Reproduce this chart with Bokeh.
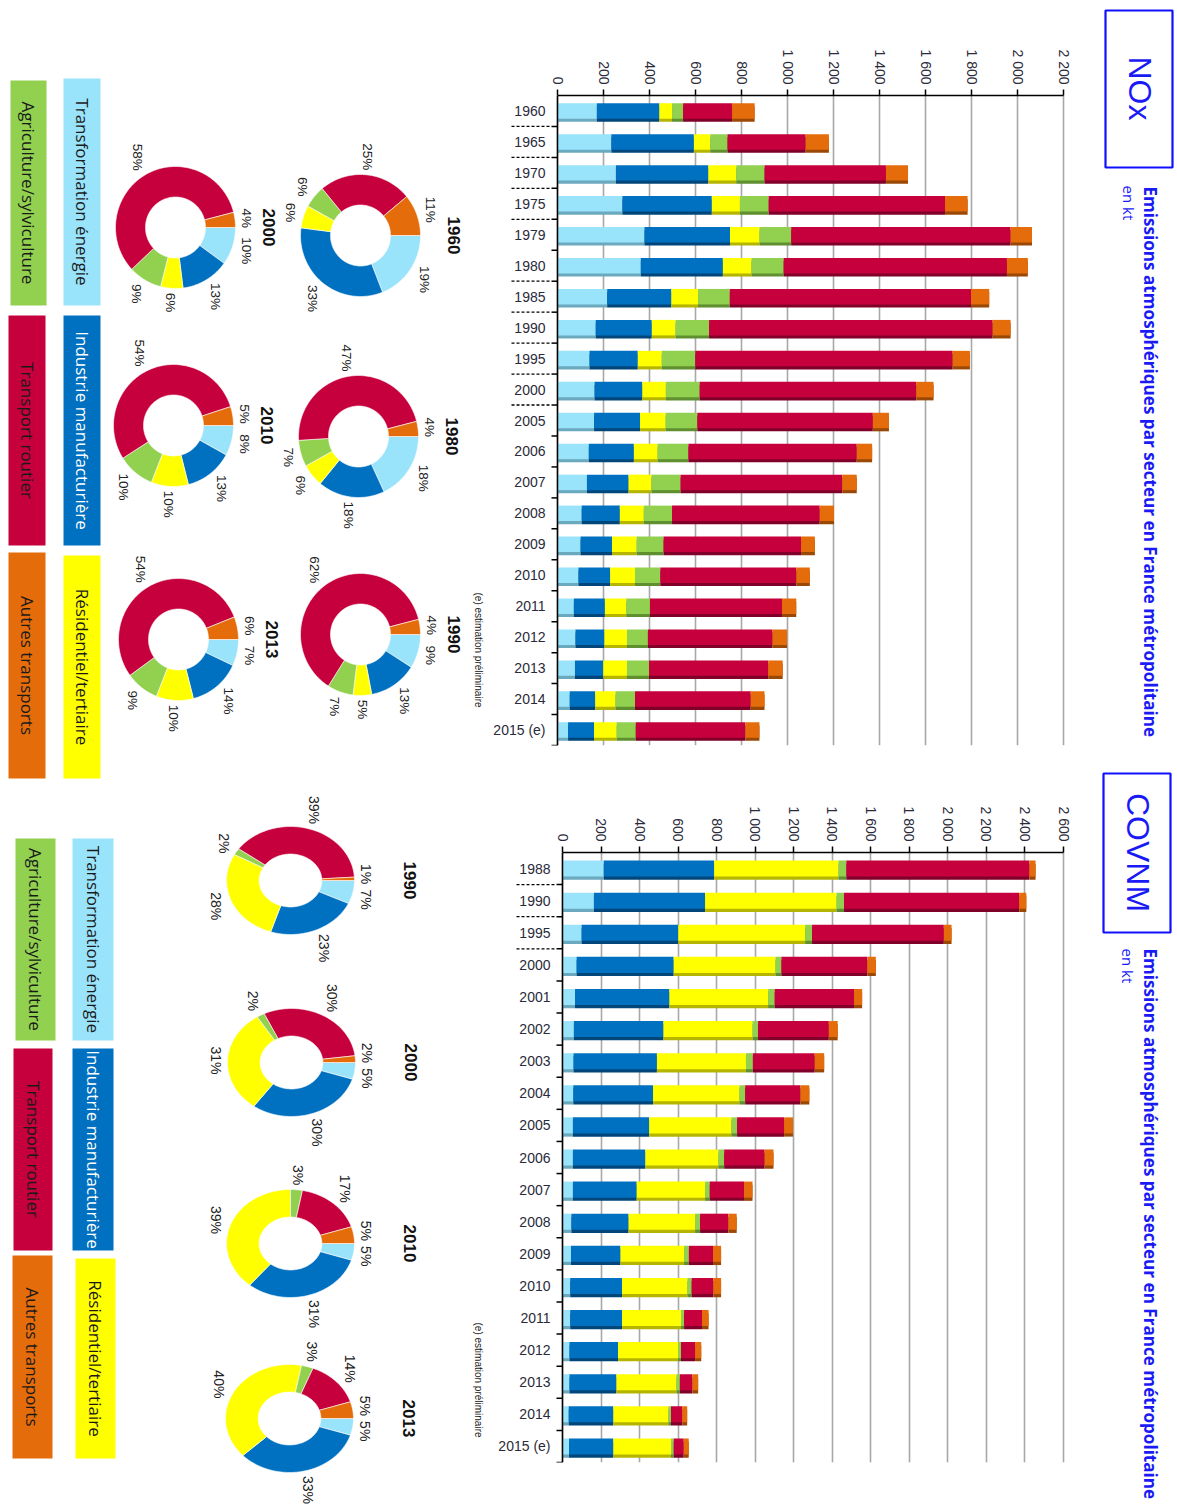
import math
from bokeh.plotting import figure
from bokeh.models import ColumnDataSource, FactorRange, Range1d, FixedTicker, Span
from bokeh.transform import dodge
from bokeh.layouts import row, column
from bokeh.core.properties import value
from bokeh.embed import file_html
from bokeh.resources import INLINE

# ---------------------------------------------------------------- data (kt)
sectors = ["Transformation énergie", "Industrie manufacturière", "Résidentiel/tertiaire",
           "Agriculture/sylviculture", "Transport routier", "Autres transports"]
stack_keys = ["energie", "industrie", "residentiel", "agriculture", "routier", "autres"]

nox_years = ["1960", "1965", "1970", "1975", "1979", "1980", "1985", "1990", "1995", "2000",
             "2005", "2006", "2007", "2008", "2009", "2010", "2011", "2012", "2013", "2014", "2015 (e)"]
nox_energie = [171, 234, 254, 282, 378, 362, 216, 166, 139, 161, 159, 136, 128, 105, 100, 91, 71, 78, 76, 53, 46]
nox_industrie = [272, 359, 402, 389, 372, 357, 279, 244, 210, 208, 200, 196, 181, 166, 137, 138, 135, 126, 123, 111, 113]
nox_residentiel = [55, 71, 121, 122, 128, 124, 116, 103, 104, 102, 111, 103, 99, 104, 107, 108, 93, 98, 103, 88, 98]
nox_agriculture = [48, 75, 123, 125, 138, 140, 138, 146, 146, 147, 138, 134, 127, 123, 117, 110, 103, 91, 96, 85, 83]
nox_routier = [213, 340, 528, 767, 954, 971, 1049, 1233, 1119, 942, 763, 732, 703, 642, 598, 592, 574, 542, 518, 503, 477]
nox_autres = [98, 101, 96, 98, 93, 91, 79, 78, 75, 75, 70, 67, 63, 62, 60, 58, 62, 63, 63, 60, 61]
nox_dashed_below = ["1960", "1965", "1970", "1975", "1980", "1985", "1990", "1995", "2000"]

covnm_years = ["1988", "1990", "1995", "2000", "2001", "2002", "2003", "2004", "2005", "2006",
               "2007", "2008", "2009", "2010", "2011", "2012", "2013", "2014", "2015 (e)"]
covnm_energie = [214, 163, 99, 73, 65, 59, 57, 56, 54, 54, 54, 46, 44, 40, 40, 36, 36, 32, 34]
covnm_industrie = [573, 577, 502, 504, 490, 465, 433, 414, 396, 376, 331, 297, 257, 269, 269, 252, 244, 232, 230]
covnm_residentiel = [645, 682, 658, 528, 512, 462, 462, 448, 426, 379, 355, 345, 330, 339, 306, 312, 311, 285, 299]
covnm_agriculture = [41, 39, 36, 31, 34, 29, 36, 30, 30, 30, 24, 26, 25, 22, 16, 15, 18, 14, 14]
covnm_routier = [950, 909, 684, 446, 412, 367, 321, 287, 244, 210, 178, 147, 125, 113, 93, 73, 65, 58, 52]
covnm_autres = [32, 37, 40, 44, 42, 46, 49, 46, 46, 46, 44, 43, 42, 40, 34, 32, 30, 26, 26]
covnm_dashed_below = ["1988", "1990", "1995"]

# sector shares (%) of the ring charts
nox_pie_years = ["1960", "1980", "1990", "2000", "2010", "2013"]
nox_pie_1960 = [19, 33, 6, 6, 25, 11]
nox_pie_1980 = [18, 18, 6, 7, 47, 4]
nox_pie_1990 = [9, 13, 5, 7, 62, 4]
nox_pie_2000 = [10, 13, 6, 9, 58, 4]
nox_pie_2010 = [8, 13, 10, 10, 54, 5]
nox_pie_2013 = [7, 14, 10, 9, 54, 6]

covnm_pie_years = ["1990", "2000", "2010", "2013"]
covnm_pie_1990 = [7, 23, 28, 2, 39, 1]
covnm_pie_2000 = [5, 30, 31, 2, 30, 2]
covnm_pie_2010 = [5, 31, 39, 3, 17, 5]
covnm_pie_2013 = [5, 33, 40, 3, 14, 5]

title_text = "Emissions atmosphériques par secteur en France métropolitaine"
unit_text = "en kt"
note_text = "(e) estimation préliminaire"

# ---------------------------------------------------------------- style
colors = ["#99E3FB", "#0070C0", "#FFFF00", "#92D050", "#C6003C", "#E46C0A"]
shade = ["#6BA9BE", "#00467A", "#B5B500", "#5F8F2E", "#80002A", "#9A4806"]
legend_text_colors = ["#1A1A1A", "#FFFFFF", "#1A1A1A", "#1A1A1A", "#1A1A1A", "#1A1A1A"]
BLUE = "#1A1AF5"
ROT = -math.pi / 2          # text reading top to bottom
AXFONT = "Liberation Sans"
PAGE_H = 1510
LEFT_W, MID_W, RIGHT_W = 490, 595, 92


def bar_panel(years, series, xmax, step, height, frame_top, frame_bottom,
              zero_px, full_px, dashed_below):
    border_right = 10
    frame_w = MID_W - border_right
    k = xmax / (full_px - zero_px)           # kt per pixel
    p = figure(width=MID_W, height=height, output_backend="svg", toolbar_location=None,
               x_range=Range1d(-zero_px * k, (frame_w - zero_px) * k),
               y_range=FactorRange(factors=list(reversed(years))),
               x_axis_location="above", y_axis_location=None,
               min_border_left=0, min_border_right=border_right,
               min_border_top=frame_top, min_border_bottom=height - frame_bottom,
               outline_line_color=None, background_fill_color="white", border_fill_color="white")
    ticks = list(range(0, xmax + 1, step))
    p.xgrid.ticker = FixedTicker(ticks=ticks)
    p.xgrid.grid_line_color = "#A8A8A8"
    p.xgrid.grid_line_width = 1.6
    p.ygrid.visible = False

    ax = p.xaxis[0]
    ax.ticker = FixedTicker(ticks=ticks)
    ax.bounds = (0, xmax)
    ax.major_label_overrides = {t: f"{t:,}".replace(",", " ") for t in ticks}
    ax.major_label_orientation = ROT
    ax.major_label_text_font = AXFONT
    ax.major_label_text_font_size = "14px"
    ax.major_label_text_color = "#2A2A3A"
    ax.major_label_standoff = 5
    ax.axis_line_width = 1.5
    ax.axis_line_color = "black"
    ax.major_tick_out = 6
    ax.major_tick_in = 0
    ax.major_tick_line_width = 1.5
    ax.minor_tick_line_color = None

    src = ColumnDataSource(dict(year=years, **dict(zip(stack_keys, series))))
    p.hbar_stack(stack_keys, y=dodge("year", -0.1, range=p.y_range), height=0.5,
                 color=shade, line_color=None, source=src)
    p.hbar_stack(stack_keys, y="year", height=0.5, color=colors, line_color=None, source=src)

    p.add_layout(Span(location=0, dimension="height", line_color="black", line_width=1.5))

    edge = dodge("year", -0.5, range=p.y_range)
    p.segment(x0=-6 * k, x1=0, y0=edge, y1=edge, line_color="black", line_width=1.5, source=src)
    dsrc = ColumnDataSource(dict(year=dashed_below))
    p.segment(x0=-46 * k, x1=-6 * k, y0=edge, y1=edge, line_color="black", line_width=1.3,
              line_dash="3 2", source=dsrc)

    p.text(x=0, y="year", text="year", x_offset=-12, text_align="right", text_baseline="middle",
           text_font=value(AXFONT), text_font_size="14px", text_color="#2A2A3A", source=src)
    return p


nox_fig = bar_panel(nox_years,
                    [nox_energie, nox_industrie, nox_residentiel, nox_agriculture, nox_routier, nox_autres],
                    2200, 200, 760, 95, 745, 557 - LEFT_W, 1063 - LEFT_W, nox_dashed_below)
covnm_fig = bar_panel(covnm_years,
                      [covnm_energie, covnm_industrie, covnm_residentiel, covnm_agriculture, covnm_routier, covnm_autres],
                      2600, 200, 750, 92, 702, 562 - LEFT_W, 1063 - LEFT_W, covnm_dashed_below)


def blank(width):
    f = figure(width=width, height=PAGE_H, output_backend="svg", toolbar_location=None,
               x_range=Range1d(0, width), y_range=Range1d(0, PAGE_H),
               x_axis_location=None, y_axis_location=None, min_border=0,
               outline_line_color=None, background_fill_color="white", border_fill_color="white")
    f.xgrid.visible = False
    f.ygrid.visible = False
    return f


# ---------------------------------------------------------------- rings + legends
left = blank(LEFT_W)


def text_len(t, px):
    """Approximate advance of a percentage label in Liberation Sans."""
    return sum(0.889 if c == "%" else 0.556 for c in t) * px


def spread(xs, ys, ws, hs, pad=5.0):
    """Push overlapping (rotated) labels apart along the vertical direction."""
    n = len(xs)
    for _ in range(40):
        moved = False
        for i in range(n):
            for j in range(i + 1, n):
                ox = (ws[i] + ws[j]) / 2 - abs(xs[i] - xs[j])
                oy = (hs[i] + hs[j]) / 2 + pad - abs(ys[i] - ys[j])
                if ox > 0 and oy > 0:
                    d = oy / 2 + 0.1
                    if ys[i] >= ys[j]:
                        ys[i] += d
                        ys[j] -= d
                    else:
                        ys[i] -= d
                        ys[j] += d
                    moved = True
        if not moved:
            break
    return ys


def ring(fig, shares, label, cx, page_cy, rx, ry, hole, year_dx, pct_px):
    cy = PAGE_H - page_cy
    xs_poly, ys_poly = [], []
    lx, ly, lw, lh, texts = [], [], [], [], []
    acc = 0.0
    for s in shares:
        a0 = -acc / 100 * 2 * math.pi          # clockwise from 3 o'clock
        a1 = -(acc + s) / 100 * 2 * math.pi
        steps = max(3, int(abs(a1 - a0) / 0.03))
        angs = [a0 + (a1 - a0) * i / steps for i in range(steps + 1)]
        px = [cx + rx * math.cos(a) for a in angs] + [cx + rx * hole * math.cos(a) for a in reversed(angs)]
        py = [cy + ry * math.sin(a) for a in angs] + [cy + ry * hole * math.sin(a) for a in reversed(angs)]
        xs_poly.append(px)
        ys_poly.append(py)
        mid = (a0 + a1) / 2
        acc += s
        t = f"{s}%"
        h = text_len(t, pct_px)
        w = pct_px
        gap = 4
        lx.append(cx + (rx + gap + w / 2 * abs(math.cos(mid)) + h / 2 * abs(math.sin(mid))) * math.cos(mid))
        ly.append(cy + (ry + gap + w / 2 * abs(math.cos(mid)) + h / 2 * abs(math.sin(mid))) * math.sin(mid))
        lw.append(w)
        lh.append(h)
        texts.append(t)
    fig.patches(xs=xs_poly, ys=ys_poly, fill_color=colors, line_color="white", line_width=0.6)
    ly = spread(lx, ly, lw, lh)
    fig.text(x=lx, y=ly, text=texts, angle=ROT, text_align="center", text_baseline="middle",
             text_font=value("Liberation Sans"), text_font_size=f"{pct_px}px", text_color="#222222")
    fig.text(x=[cx + year_dx], y=[cy], text=[label], angle=ROT, text_align="center",
             text_baseline="middle", text_font=value("Liberation Sans"), text_font_style="bold",
             text_font_size="17px", text_color="#111111")


nox_ring_pos = [(360, 235), (358, 436), (360, 634), (175, 227), (173, 425), (178, 639)]
for lab, shares, (cx, cy) in zip(nox_pie_years,
                                 [nox_pie_1960, nox_pie_1980, nox_pie_1990, nox_pie_2000, nox_pie_2010, nox_pie_2013],
                                 nox_ring_pos):
    ring(left, shares, lab, cx, cy, 60, 61, 0.5, 93, 13.5)

covnm_ring_pos = [(290, 880), (291, 1062), (290, 1243), (289, 1418)]
for lab, shares, (cx, cy) in zip(covnm_pie_years,
                                 [covnm_pie_1990, covnm_pie_2000, covnm_pie_2010, covnm_pie_2013],
                                 covnm_ring_pos):
    ring(left, shares, lab, cx, cy, 64, 54, 0.49, 119, 14)


def legend_block(fig, boxes):
    # boxes: (left, right, page_top, page_bottom) per sector
    l = [b[0] for b in boxes]
    r = [b[1] for b in boxes]
    t = [PAGE_H - b[2] for b in boxes]
    bt = [PAGE_H - b[3] for b in boxes]
    fig.quad(left=l, right=r, top=t, bottom=bt, fill_color=colors, line_color=None)
    fig.text(x=[(a + b) / 2 for a, b in zip(l, r)], y=[(a + b) / 2 for a, b in zip(t, bt)],
             text=sectors, angle=ROT, text_align="center", text_baseline="middle",
             text_font=value("Open Sans"), text_font_size="17px", text_color=legend_text_colors)


legend_block(left, [(63, 100, 78, 305), (63, 100, 315, 545), (63, 100, 555, 778),
                    (10, 46, 80, 305), (8, 45, 315, 545), (8, 45, 552, 778)])
legend_block(left, [(72, 113, 838, 1040), (72, 113, 1048, 1250), (75, 115, 1258, 1458),
                    (15, 55, 838, 1040), (13, 52, 1048, 1250), (12, 52, 1255, 1458)])

left.text(x=[478, 478], y=[PAGE_H - 592, PAGE_H - 1322], text=[note_text, note_text], angle=ROT,
          text_align="left", text_baseline="middle", text_font=value("Liberation Sans"),
          text_font_size="10px", text_color="#222222")

# ---------------------------------------------------------------- titles
right = blank(RIGHT_W)
ox = 1085
right.quad(left=[1105 - ox, 1103 - ox], right=[1172 - ox, 1170 - ox],
           top=[PAGE_H - 10, PAGE_H - 773], bottom=[PAGE_H - 167, PAGE_H - 932],
           fill_color="white", line_color="#1010FF", line_width=2.2)
right.text(x=[1139 - ox, 1137 - ox], y=[PAGE_H - 88, PAGE_H - 852], text=["NOx", "COVNM"], angle=ROT,
           text_align="center", text_baseline="middle", text_font=value("Liberation Sans"),
           text_font_size="32px", text_color="#1A1AF5")
right.text(x=[1150 - ox, 1150 - ox], y=[PAGE_H - 186, PAGE_H - 948], text=[title_text, title_text],
           angle=ROT, text_align="left", text_baseline="middle", text_font=value("Open Sans"),
           text_font_style="bold", text_font_size="17.1px", text_color=BLUE)
right.text(x=[1128 - ox, 1127 - ox], y=[PAGE_H - 185, PAGE_H - 948], text=[unit_text, unit_text],
           angle=ROT, text_align="left", text_baseline="middle", text_font=value("Open Sans"),
           text_font_size="15px", text_color=BLUE)

page = row(left, column(nox_fig, covnm_fig), right)
open("out.html", "w").write(file_html(page, INLINE))
